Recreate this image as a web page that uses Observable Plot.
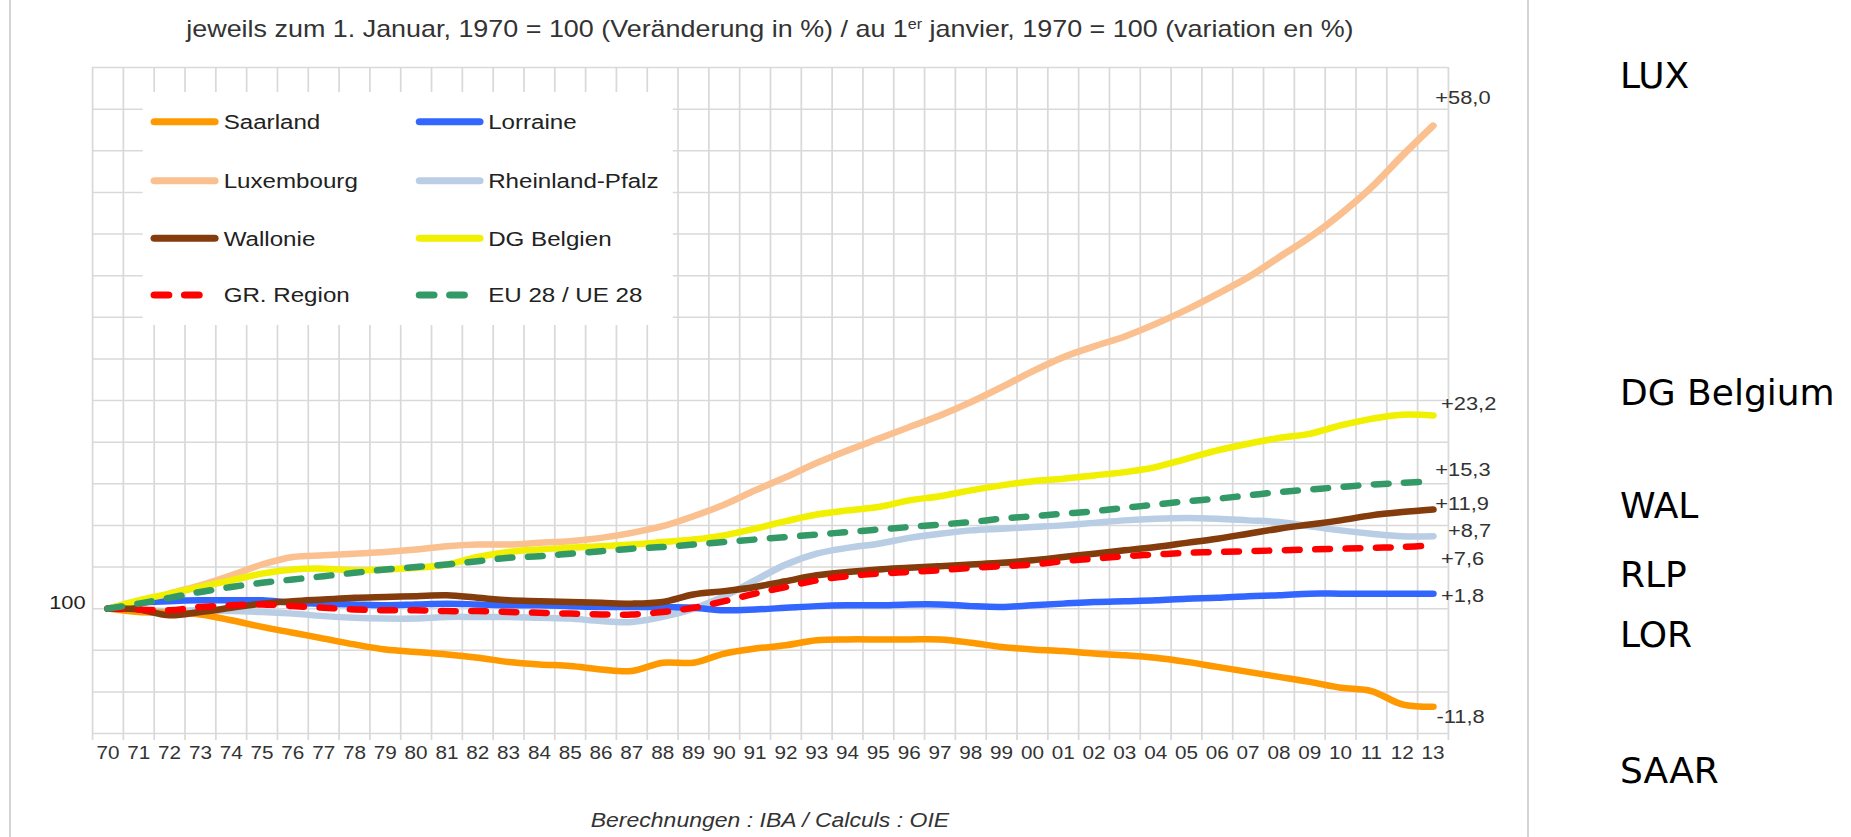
<!DOCTYPE html>
<html>
<head>
<meta charset="utf-8">
<script src="https://cdn.jsdelivr.net/npm/d3@7"></script>
<script src="https://cdn.jsdelivr.net/npm/@observablehq/plot@0.6"></script>
<style>
html, body { margin: 0; padding: 0; background: #fff; }
body { width: 1851px; height: 837px; overflow: hidden; position: relative; font-family: "Liberation Sans", Arial, sans-serif; }
.sep { position: absolute; top: 0; width: 2px; height: 837px; background: #d4d4d4; }
#panel { position: absolute; left: 0; top: 0; width: 1310px; height: 837px; transform: scaleX(1.15); transform-origin: 0 0; }
#title { position: absolute; left: 80px; width: 1179px; top: 15px; line-height: 28px; font-size: 23.4px; text-align: center; color: #333; white-space: nowrap; }
#title sup { font-size: 14px; line-height: 0; vertical-align: 0.6em; }
#chart { position: absolute; left: 0; top: 50px; }
#legend { position: absolute; left: 123.5px; top: 92px; width: 461.5px; height: 233px; background: #fff; }
#caption { position: absolute; left: 80px; width: 1179px; top: 808px; line-height: 24px; font-size: 20px; font-style: italic; text-align: center; color: #333; white-space: nowrap; }
#side { position: absolute; left: 1600px; top: 0; }
</style>
</head>
<body>
<div class="sep" style="left:9px"></div>
<div class="sep" style="left:1527px"></div>
<div id="panel">
  <div id="title">jeweils zum 1. Januar, 1970 = 100 (Veränderung in %) / au 1<sup>er</sup> janvier, 1970 = 100 (variation en %)</div>
  <div id="chart"></div>
  <div id="legend"></div>
  <div id="caption">Berechnungen : IBA / Calculs : OIE</div>
</div>
<svg id="side" width="251" height="837"></svg>
<script>
// ---------- data ----------
const years = [1970,1971,1972,1973,1974,1975,1976,1977,1978,1979,1980,1981,1982,1983,1984,1985,1986,1987,1988,1989,
               1990,1991,1992,1993,1994,1995,1996,1997,1998,1999,2000,2001,2002,2003,2004,2005,2006,2007,2008,2009,
               2010,2011,2012,2013];
const xLabels = ["70","71","72","73","74","75","76","77","78","79","80","81","82","83","84","85","86","87","88","89",
                 "90","91","92","93","94","95","96","97","98","99","00","01","02","03","04","05","06","07","08","09",
                 "10","11","12","13"];
const yGrid = [85,90,95,100,105,110,115,120,125,130,135,140,145,150,155,160,165];

const saarland = [100,99.6,99.5,99.3,98.6,97.8,97.1,96.4,95.7,95.1,94.8,94.5,94.1,93.6,93.3,93.1,92.7,92.5,93.5,93.5,
                  94.6,95.2,95.6,96.2,96.3,96.3,96.3,96.3,95.9,95.4,95.1,94.9,94.6,94.4,94.1,93.6,93.0,92.4,91.8,91.2,
                  90.5,90.1,88.5,88.2];
const lorraine = [100,100.7,100.9,101.0,101.0,101.0,100.7,100.6,100.5,100.4,100.5,100.6,100.5,100.4,100.4,100.3,100.2,100.2,100.2,100.1,
                  99.8,99.9,100.1,100.3,100.4,100.4,100.5,100.5,100.3,100.2,100.4,100.6,100.8,100.9,101.0,101.2,101.3,101.5,101.6,101.8,
                  101.8,101.8,101.8,101.8];
const luxembourg = [100,100.6,101.8,102.8,104.0,105.3,106.2,106.4,106.6,106.8,107.1,107.5,107.7,107.7,107.9,108.1,108.5,109.1,109.9,111.1,
                    112.5,114.2,115.8,117.5,119.0,120.4,121.8,123.2,124.8,126.6,128.5,130.2,131.5,132.7,134.2,135.9,137.8,139.8,142.2,144.6,
                    147.4,150.6,154.4,158.0];
const rheinlandPfalz = [100,99.8,99.7,99.8,99.7,99.6,99.4,99.1,98.9,98.8,98.8,99.0,99.0,99.0,98.9,98.8,98.5,98.4,99.0,100.0,
                        101.5,103.4,105.3,106.6,107.3,107.8,108.5,109.0,109.4,109.6,109.8,110.0,110.3,110.6,110.8,110.9,110.8,110.6,110.4,109.9,
                        109.4,109.0,108.7,108.7];
const wallonie = [100,99.9,99.2,99.6,100.1,100.6,100.9,101.1,101.3,101.4,101.5,101.6,101.3,101.0,100.9,100.8,100.7,100.6,100.8,101.7,
                  102.1,102.6,103.3,104.0,104.4,104.7,104.9,105.1,105.3,105.5,105.8,106.2,106.6,107.0,107.4,107.9,108.4,109.0,109.6,110.1,
                  110.6,111.2,111.6,111.9];
const dgBelgien = [100,101.0,101.8,102.6,103.4,104.2,104.7,104.8,104.6,104.7,104.9,105.3,106.2,106.8,107.1,107.3,107.5,107.7,108.0,108.3,
                   108.8,109.6,110.5,111.3,111.8,112.2,113.0,113.5,114.2,114.8,115.3,115.6,116.0,116.4,117.0,118.0,119.0,119.8,120.5,121.0,
                   122.0,122.8,123.3,123.2];
const grRegion = [100,99.9,99.8,100.2,100.4,100.5,100.3,100.1,99.9,99.8,99.8,99.7,99.7,99.6,99.5,99.4,99.3,99.3,99.6,100.1,
                  100.9,101.8,102.6,103.4,103.9,104.2,104.4,104.6,104.9,105.1,105.3,105.7,106.0,106.3,106.5,106.7,106.8,106.9,107.0,107.1,
                  107.2,107.3,107.4,107.6];
const eu28 = [100,100.6,101.3,102.0,102.6,103.1,103.5,103.9,104.3,104.7,105.0,105.3,105.7,106.1,106.3,106.6,106.9,107.2,107.4,107.7,
              108.0,108.3,108.6,108.9,109.2,109.5,109.8,110.1,110.4,110.8,111.1,111.4,111.7,112.1,112.5,112.9,113.2,113.6,114.0,114.3,
              114.6,114.9,115.1,115.3];

const seriesNames  = ["Saarland","Lorraine","Luxembourg","Rheinland-Pfalz","Wallonie","DG Belgien","GR. Region","EU 28 / UE 28"];
const seriesValues = [saarland, lorraine, luxembourg, rheinlandPfalz, wallonie, dgBelgien, grRegion, eu28];
const seriesColors = ["#ff9900","#3366ff","#fac08f","#b9cde5","#843c0c","#f0f000","#ff0000","#339966"];
const seriesDashed = [false,false,false,false,false,false,true,true];
const endLabels    = ["-11,8","+1,8","+58,0","+8,7","+11,9","+23,2","+7,6","+15,3"];
const sideLabels   = ["LUX","DG Belgium","WAL","RLP","LOR","SAAR"];

// ---------- layout (not data) ----------
const drawOrder = ["Luxembourg","Rheinland-Pfalz","Lorraine","Saarland","DG Belgien","Wallonie","GR. Region","EU 28 / UE 28"];
const endOffsets = {
  "Saarland": [3, 10], "Lorraine": [7, 2], "Luxembourg": [2, -28], "Rheinland-Pfalz": [13, -5],
  "Wallonie": [2, -6], "DG Belgien": [7, -12], "GR. Region": [7, 14], "EU 28 / UE 28": [2, -11]
};
const sideBaselines = [88, 405, 518, 587, 647, 783];

const rows = [];
for (const name of drawOrder) {
  const k = seriesNames.indexOf(name);
  seriesValues[k].forEach((v, i) => rows.push({series: name, year: years[i], value: v, dashed: seriesDashed[k]}));
}
const bounds = years.map(y => y - 0.5).concat([years[years.length - 1] + 0.5]);
const gridColor = "#d9d9d9";

const endMarks = seriesNames.map((name, k) => {
  const last = seriesValues[k].length - 1;
  return Plot.text([{year: years[last], value: seriesValues[k][last], label: endLabels[k]}], {
    x: "year", y: "value", text: "label", textAnchor: "start",
    dx: endOffsets[name][0], dy: endOffsets[name][1], fontSize: 19, fill: "#333"
  });
});

const chart = Plot.plot({
  width: 1310, height: 723,
  marginTop: 17, marginBottom: 40, marginLeft: 80, marginRight: 51,
  x: {domain: [bounds[0], bounds[bounds.length - 1]], axis: null},
  y: {domain: [yGrid[0], yGrid[yGrid.length - 1]], axis: null},
  color: {domain: seriesNames, range: seriesColors},
  style: {fontFamily: "'Liberation Sans', Arial, sans-serif", fontSize: "18px", color: "#333", background: "transparent", overflow: "visible"},
  marks: [
    Plot.ruleY(yGrid, {stroke: gridColor, strokeWidth: 1.5}),
    Plot.ruleX(bounds, {stroke: gridColor, strokeWidth: 1.5, insetBottom: -7}),
    Plot.text(years, {x: d => d, text: (d, i) => xLabels[i], frameAnchor: "bottom", dy: 25, fontSize: 18, fill: "#333"}),
    Plot.text([100], {y: d => d, text: d => String(d), frameAnchor: "left", textAnchor: "end", dx: -6, dy: -6, fontSize: 19, fill: "#222"}),
    Plot.line(rows.filter(d => !d.dashed), {x: "year", y: "value", z: "series", stroke: "series",
      strokeWidth: 6.5, curve: "catmull-rom", strokeLinecap: "round", strokeLinejoin: "round"}),
    Plot.line(rows.filter(d => d.dashed), {x: "year", y: "value", z: "series", stroke: "series",
      strokeWidth: 6.5, curve: "catmull-rom", strokeLinecap: "round", strokeLinejoin: "round", strokeDasharray: "12,14.4"}),
    ...endMarks
  ]
});
document.getElementById("chart").appendChild(chart);

// ---------- legend (inside plot area) ----------
const legendOrder = [["Saarland","Lorraine"],["Luxembourg","Rheinland-Pfalz"],["Wallonie","DG Belgien"],["GR. Region","EU 28 / UE 28"]];
const rowY = [29.7, 88.7, 146.3, 203];
const colX = [[10.4, 62.6, 70.5], [241, 293, 300.5]];
const lg = d3.select("#legend").append("svg").attr("width", 461.5).attr("height", 233);
legendOrder.forEach((pair, r) => pair.forEach((name, c) => {
  const k = seriesNames.indexOf(name);
  lg.append("line").attr("x1", colX[c][0]).attr("x2", colX[c][1]).attr("y1", rowY[r]).attr("y2", rowY[r])
    .attr("stroke", seriesColors[k]).attr("stroke-width", 7).attr("stroke-linecap", "round")
    .attr("stroke-dasharray", seriesDashed[k] ? "12,14.4" : null);
  lg.append("text").attr("x", colX[c][2]).attr("y", rowY[r]).attr("dy", "0.35em")
    .attr("font-family", "'Liberation Sans', Arial, sans-serif").attr("font-size", 21).attr("fill", "#222")
    .text(name);
}));

// ---------- side labels ----------
const side = d3.select("#side");
sideLabels.forEach((t, i) => {
  side.append("text").attr("x", 20).attr("y", sideBaselines[i])
    .attr("font-family", "'DejaVu Sans', sans-serif").attr("font-size", 36).attr("fill", "#000").text(t);
});
</script>
</body>
</html>
